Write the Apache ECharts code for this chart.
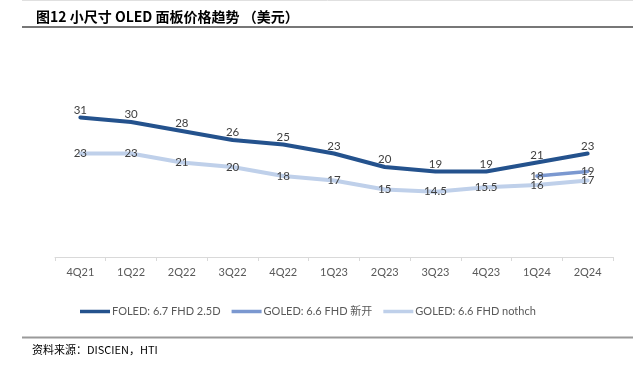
<!DOCTYPE html>
<html>
<head>
<meta charset="utf-8">
<script src="https://cdn.jsdelivr.net/npm/echarts@6/dist/echarts.min.js"></script>
<style>
html,body{margin:0;padding:0;background:#fff;}
#c{width:637px;height:373px;}
</style>
</head>
<body>
<div id="c"></div>
<script>
const categories = ['4Q21','1Q22','2Q22','3Q22','4Q22','1Q23','2Q23','3Q23','4Q23','1Q24','2Q24'];
const foled = [31,30,28,26,25,23,20,19,19,21,23];
const goledNew = ['-','-','-','-','-','-','-','-','-',18,19];
const goledNotch = [23,23,21,20,18,17,15,14.5,15.5,16,17];
const seriesNames = ['FOLED: 6.7 FHD 2.5D','GOLED: 6.6 FHD 新开','GOLED: 6.6 FHD nothch'];
const colors = ['#24528D','#7B98D0','#BFD0EA'];

const font = 'Lato, "Noto Sans CJK SC", sans-serif';
const chart = echarts.init(document.getElementById('c'), null, {renderer:'canvas'});

function mkSeries(name, data, color, width, pos, dist){
  return {
    name: name, type: 'line', data: data,
    symbol: 'circle', symbolSize: 1, showSymbol: true,
    lineStyle: {color: color, width: width, cap:'round', join:'round'},
    itemStyle: {color: color},
    label: {show: true, position: pos, distance: dist, color: '#404040', fontSize: 11.5, fontFamily: font},
    emphasis: {disabled: true},
    silent: true
  };
}

chart.setOption({
  animation: false,
  color: colors,
  title: {
    text: '图12 小尺寸 OLED 面板价格趋势 （美元）',
    left: 31, top: 5,
    textStyle: {fontSize: 14, fontWeight: 'bold', color: '#000', fontFamily: '"Noto Sans CJK SC", sans-serif'}
  },
  grid: {left: 55, right: 24, top: 77, bottom: 116, containLabel: false},
  xAxis: {
    type: 'category', data: categories, boundaryGap: true,
    axisLine: {lineStyle: {color: '#D9D9D9', width: 1}},
    axisTick: {show: true, length: 4, lineStyle: {color: '#D9D9D9'}},
    axisLabel: {color: '#595959', fontSize: 11, fontFamily: font, margin: 10}
  },
  yAxis: {
    type: 'value', min: 0, max: 40, show: false,
    splitLine: {show: false}
  },
  legend: {
    left: 80, top: 306, padding: 0,
    icon: 'rect', itemWidth: 30, itemHeight: 3.5, itemGap: 11,
    textStyle: {color: '#595959', fontSize: 11, fontFamily: font, padding: [0,0,0,-3]},
    data: seriesNames
  },
  series: [
    mkSeries(seriesNames[0], foled, colors[0], 4, 'top', 1),
    mkSeries(seriesNames[1], goledNew, colors[1], 3.5, 'inside', 0),
    mkSeries(seriesNames[2], goledNotch, colors[2], 4, 'inside', 0)
  ],
  graphic: [
    {type:'line', shape:{x1:22,y1:0.5,x2:633,y2:0.5}, style:{stroke:'#E0E0E0', lineWidth:1}},
    {type:'line', shape:{x1:22,y1:27,x2:633,y2:27}, style:{stroke:'#4A4A4A', lineWidth:1.5}},
    {type:'line', shape:{x1:22,y1:337.5,x2:633,y2:337.5}, style:{stroke:'#9A9A9A', lineWidth:2}},
    {type:'text', left: 32, top: 344, style:{text:'资料来源：DISCIEN，HTI', fill:'#000', fontSize: 11, fontFamily: '"Noto Sans CJK SC", sans-serif'}}
  ]
});
</script>
</body>
</html>
